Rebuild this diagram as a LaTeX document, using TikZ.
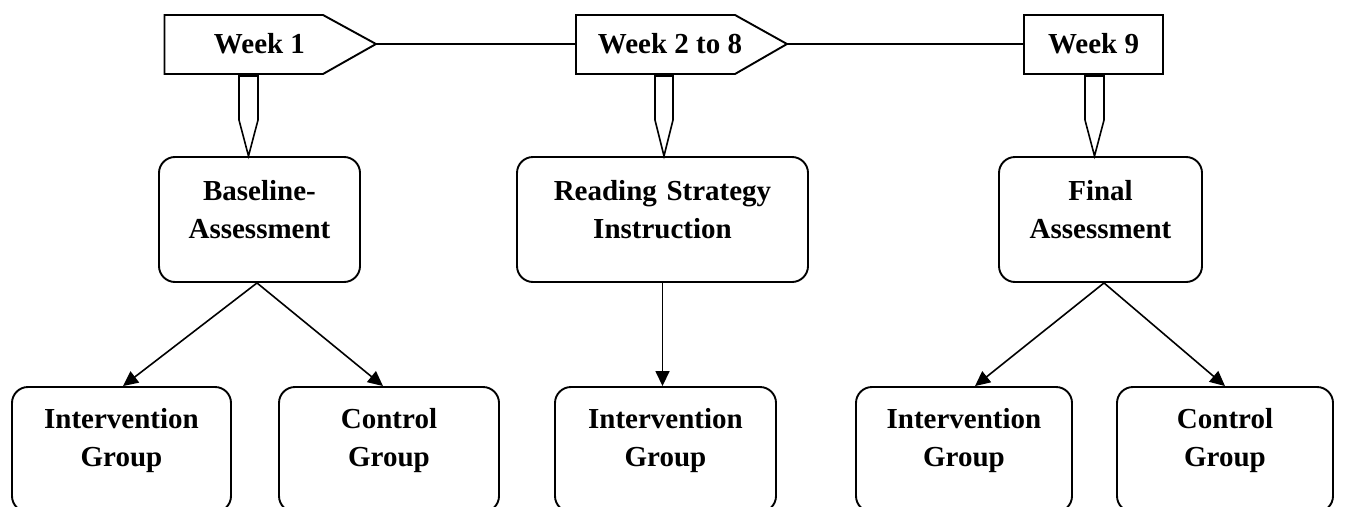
\documentclass[tikz,border=0pt]{standalone}
\usepackage{fontspec}
\setmainfont{Liberation Serif}
\usetikzlibrary{arrows.meta}
\begin{document}
\begin{tikzpicture}[x=1pt,y=-1pt,
  line width=1.9pt,
  every node/.style={font=\fontsize{29}{38}\selectfont\bfseries},
  stagebox/.style={draw, rounded corners=16pt, inner sep=0pt, align=center,
    text height=43pt, text depth=82pt, anchor=base},
  groupbox/.style={draw, rounded corners=16pt, inner sep=0pt, align=center,
    text height=41.5pt, text depth=83.5pt, anchor=base},
  weeklabel/.style={inner sep=0pt, anchor=base},
  flow/.style={line width=1.6pt, -{Triangle[length=15pt,width=14pt]}},
  pencil/.style={fill=white, line width=1.6pt, line join=miter}
]
\useasboundingbox (0,0) rectangle (1348,506);
\clip (0,0) rectangle (1348,506);

% week markers along the timeline
\draw (164.5,15) -- (323,15) -- (376,44) -- (323,74) -- (164.5,74) -- cycle;
\coordinate (w1tip) at (376,44);
\node[weeklabel] (w1) at (259.5,53) {Week 1};

\draw (576,15) -- (735,15) -- (787,44) -- (735,74) -- (576,74) -- cycle;
\coordinate (w2in) at (576,44);
\coordinate (w2tip) at (787,44);
\node[weeklabel] (w2) at (670,53) {Week 2 to 8};

\draw (1024,15) rectangle (1163,74);
\coordinate (w3in) at (1024,44);
\node[weeklabel] (w3) at (1093.5,53) {Week 9};

\draw[line width=1.6pt] (w1tip) -- (w2in);
\draw[line width=1.6pt] (w2tip) -- (w3in);

% pencil-shaped pointers from the weeks to the stages
\draw[pencil] (239,76) -- (258,76) -- (258,120) -- (248.5,156) -- (239,120) -- cycle;
\draw[pencil] (655,76) -- (673,76) -- (673,120) -- (664,156) -- (655,120) -- cycle;
\draw[pencil] (1085,76) -- (1104,76) -- (1104,120) -- (1094.5,156) -- (1085,120) -- cycle;

% stages
\node[stagebox, text width=201pt] (bas) at (259.5,200) {Baseline-\\Assessment};
\node[stagebox, text width=291pt] (rsi) at (662.5,200) {Reading Strategy\\Instruction};
\node[stagebox, text width=203pt] (fin) at (1100.5,200) {Final\\Assessment};

% groups
\node[groupbox, text width=219pt] (int1) at (121.5,428.5) {Intervention\\Group};
\node[groupbox, text width=220pt] (ctl1) at (389,428.5) {Control\\Group};
\node[groupbox, text width=221pt] (int2) at (665.5,428.5) {Intervention\\Group};
\node[groupbox, text width=216pt] (int3) at (964,428.5) {Intervention\\Group};
\node[groupbox, text width=216pt] (ctl3) at (1225,428.5) {Control\\Group};

% connectors
\draw[flow] ([xshift=-2.5pt]bas.south) -- ([xshift=1.5pt]int1.north);
\draw[flow] ([xshift=-2.5pt]bas.south) -- ([xshift=-6pt]ctl1.north);
\draw[flow] (rsi.south) -- (rsi.south |- int2.north);
\draw[flow] ([xshift=3.5pt]fin.south) -- ([xshift=11pt]int3.north);
\draw[flow] ([xshift=3.5pt]fin.south) -- (ctl3.north);
\end{tikzpicture}
\end{document}
